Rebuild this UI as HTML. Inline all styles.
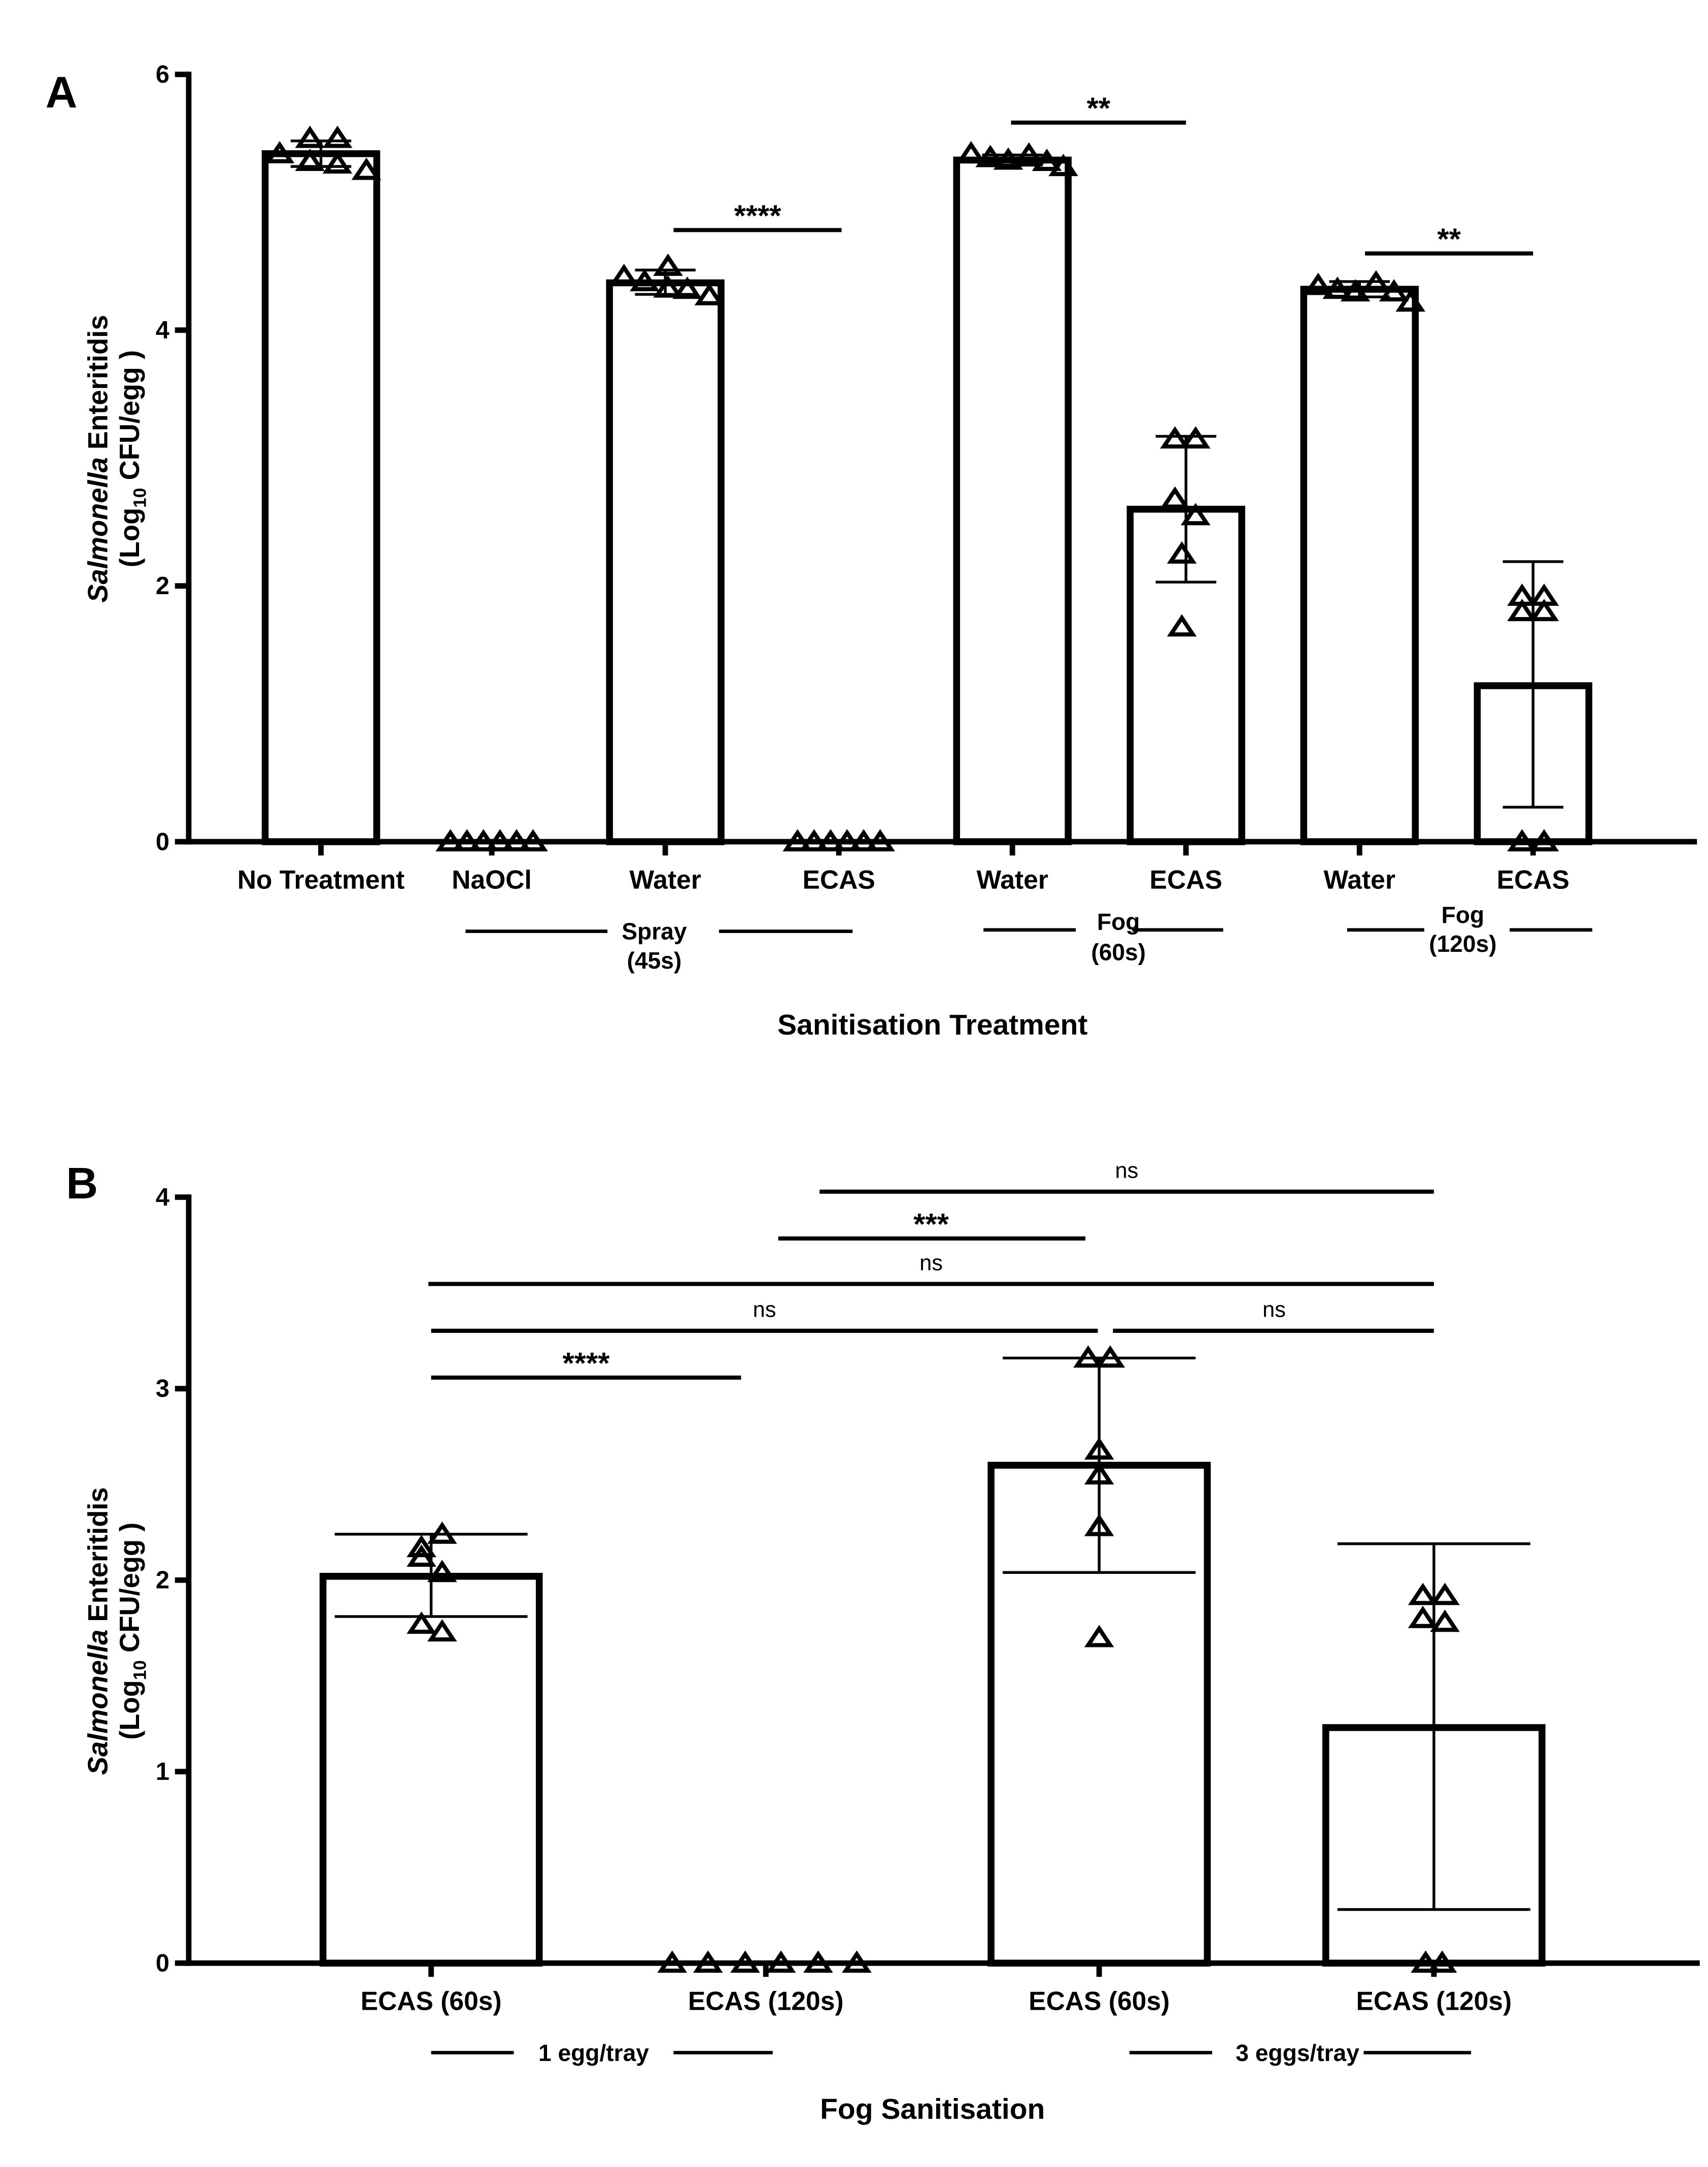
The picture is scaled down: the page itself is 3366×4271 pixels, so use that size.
<!DOCTYPE html>
<html><head><meta charset="utf-8"><style>
html,body{margin:0;padding:0;background:#fff}
svg{display:block}
text{font-family:"Liberation Sans",Arial,sans-serif;fill:#000}
</style></head><body>
<svg id="chart" width="3366" height="4271" viewBox="0 0 1240 1573" preserveAspectRatio="none" xmlns="http://www.w3.org/2000/svg">
<g id="pa"></g>
<g id="pb"></g>
</svg>
<script>
// ---------- Panel A data ----------
const catsA = ["No Treatment","NaOCl","Water","ECAS","Water","ECAS","Water","ECAS"];
const meansA = [5.38,0,4.37,0,5.33,2.60,4.32,1.22];
const errLoA = [5.28,0,4.28,0,5.29,2.03,4.26,0.27];
const errHiA = [5.48,0,4.47,0,5.37,3.17,4.38,2.19];
const pointsA = [
 [5.38,5.50,5.50,5.32,5.30,5.25],
 [0,0,0,0,0,0],
 [4.42,4.38,4.50,4.33,4.32,4.27],
 [0,0,0,0,0,0],
 [5.38,5.35,5.33,5.37,5.32,5.28],
 [3.15,3.15,2.68,2.55,2.25,1.68],
 [4.35,4.32,4.30,4.37,4.30,4.22],
 [1.92,1.92,1.80,1.80,0,0]
];
const ticksA = [0,2,4,6];
// ---------- Panel B data ----------
const catsB = ["ECAS (60s)","ECAS (120s)","ECAS (60s)","ECAS (120s)"];
const meansB = [2.02,0,2.60,1.23];
const errLoB = [1.81,0,2.04,0.28];
const errHiB = [2.24,0,3.16,2.19];
const pointsB = [
 [2.17,2.12,2.24,2.04,1.77,1.73],
 [0,0,0,0,0,0],
 [3.16,3.16,2.68,2.55,2.28,1.70],
 [1.92,1.92,1.80,1.78,0,0]
];
const ticksB = [0,1,2,3,4];

const NS="http://www.w3.org/2000/svg";
function mk(parent,tag,attrs,txt){const e=document.createElementNS(NS,tag);for(const k in attrs)e.setAttribute(k,attrs[k]);if(txt!==undefined)e.textContent=txt;parent.appendChild(e);return e;}
function tri(g,x,y){const h=11,w=8;const p=mk(g,'polygon',{points:`${x},${y-h/2-1} ${x-w},${y+h/2} ${x+w},${y+h/2}`,fill:'none',stroke:'#000','stroke-width':3,'stroke-linejoin':'miter'});

}

function panel(g,o){
 const y=v=>o.y0-(v/o.ymax)*(o.y0-o.ytop);
 o.means.forEach((m,i)=>{const cx=o.cx[i];
  if(m>0){const r=mk(g,'rect',{x:cx-o.bw/2,y:y(m),width:o.bw,height:o.y0-y(m),fill:'#fff',stroke:'#000','stroke-width':5});
   
   }
 });
 o.means.forEach((m,i)=>{if(m<=0)return;const cx=o.cx[i];const ew=o.ew;
  const e=mk(g,'g',{stroke:'#000','stroke-width':2});
  
  
  mk(e,'line',{x1:cx,x2:cx,y1:y(o.lo[i]),y2:y(o.hi[i])});
  mk(e,'line',{x1:cx-ew,x2:cx+ew,y1:y(o.lo[i]),y2:y(o.lo[i])});
  mk(e,'line',{x1:cx-ew,x2:cx+ew,y1:y(o.hi[i]),y2:y(o.hi[i])});
 });
 const ax=mk(g,'g',{stroke:'#000','stroke-width':4});
 
 
 mk(ax,'line',{x1:o.x0,x2:o.x0,y1:o.ytop-2,y2:o.y0+2});
 mk(ax,'line',{x1:o.x0-2,x2:o.xend,y1:o.y0,y2:o.y0});
 o.ticks.forEach(t=>{mk(ax,'line',{x1:o.x0-10,x2:o.x0,y1:y(t),y2:y(t)});
  const tl=mk(g,'text',{x:o.x0-14,y:y(t)+6,'text-anchor':'end','font-size':18,'font-weight':'bold'},t);
  
  });
 o.cx.forEach((cx,i)=>{mk(ax,'line',{x1:cx,x2:cx,y1:o.y0,y2:o.y0+10});
  const t=mk(g,'text',{x:cx,y:o.y0+34,'text-anchor':'middle','font-size':19,'font-weight':'bold'},o.cats[i]);
  
  });
 o.pts.forEach((arr,i)=>arr.forEach((v,j)=>tri(g,o.cx[i]+o.off[i][j],y(v))));
}

const pa=document.getElementById('pa'), pb=document.getElementById('pb');
panel(pa,{x0:137,xend:1232,y0:611,ytop:54,ymax:6,bw:81,ew:22,cats:catsA,means:meansA,lo:errLoA,hi:errHiA,pts:pointsA,ticks:ticksA,
 cx:[233,357,483,609,735,861,987,1113],
 off:[[-30,-8,12,-8,12,33],[-30,-18,-6,6,18,30],[-30,-15,2,2,16,32],[-30,-18,-6,6,18,30],[-30,-16,-3,12,25,37],[-8,7,-8,7,-3,-3],[-30,-16,-3,12,25,37],[-8,8,-8,8,-8,8]]});
panel(pb,{x0:137,xend:1234,y0:1425,ytop:869,ymax:4,bw:157,ew:70,cats:catsB,means:meansB,lo:errLoB,hi:errHiB,pts:pointsB,ticks:ticksB,
 cx:[313,556,798,1041],
 off:[[-7,-7,8,8,-7,8],[-68,-42,-15,11,38,66],[-8,8,0,0,0,0],[-8,8,-8,8,-6,6]]});

function sig(g,x1,x2,yy,label,isStar,tx){
 const s=mk(g,'g',{});
 
 
 mk(s,'line',{x1:x1,x2:x2,y1:yy,y2:yy,stroke:'#000','stroke-width':3});
 mk(s,'text',{x:tx===undefined?(x1+x2)/2:tx,y:isStar?yy-3:yy-10,'text-anchor':'middle','font-size':isStar?22:16,'font-weight':isStar?'bold':'normal'},label);
}
sig(pa,489,611,167,"****",true);
sig(pa,734,861,89,"**",true);
sig(pa,991,1113,184,"**",true);
sig(pb,595,1041,865,"ns",false,818);
sig(pb,565,788,899,"***",true,676);
sig(pb,311,1041,932,"ns",false,676);
sig(pb,313,797,966,"ns",false,555);
sig(pb,808,1041,966,"ns",false,925);
sig(pb,313,538,1000,"****",true);

function grp(g,segs,lines,x,ys,fs){
 const gg=mk(g,'g',{});
 
 
 segs.forEach(s=>mk(gg,'line',{x1:s[0],x2:s[1],y1:s[2],y2:s[2],stroke:'#000','stroke-width':2.5}));
 lines.forEach((l,i)=>mk(gg,'text',{x:x,y:ys[i],'text-anchor':'middle','font-size':fs||17,'font-weight':'bold'},l));
}
grp(pa,[[338,441,676],[522,619,676]],["Spray","(45s)"],475,[682,703]);
grp(pa,[[714,781,675],[822,888,675]],["Fog","(60s)"],812,[675,697]);
grp(pa,[[978,1034,675],[1096,1156,675]],["Fog","(120s)"],1062,[670,691]);
grp(pb,[[313,373,1490],[489,561,1490]],["1 egg/tray"],431,[1496]);
grp(pb,[[820,880,1490],[990,1068,1490]],["3 eggs/tray"],942,[1496]);

function txt(g,name,attrs,content){const t=mk(g,'text',attrs,content);return t;}
txt(pa,'panel-letter',{x:33,y:78,'font-size':32,'font-weight':'bold'},"A");
txt(pb,'panel-letter',{x:48,y:870,'font-size':32,'font-weight':'bold'},"B");
txt(pa,'x-axis-title',{x:677,y:751,'text-anchor':'middle','font-size':21,'font-weight':'bold'},"Sanitisation Treatment");
txt(pb,'x-axis-title',{x:677,y:1538,'text-anchor':'middle','font-size':21,'font-weight':'bold'},"Fog Sanitisation");
function ytitle(g,cy){
 const t=mk(g,'text',{transform:`translate(78,${cy}) rotate(-90)`,'text-anchor':'middle','font-size':20,'font-weight':'bold'});
 
 
 mk(t,'tspan',{'font-style':'italic'},"Salmonella");
 mk(t,'tspan',{},"\u00A0Enteritidis");
 const t2=mk(g,'text',{transform:`translate(101,${cy}) rotate(-90)`,'text-anchor':'middle','font-size':20,'font-weight':'bold'});
 
 
 mk(t2,'tspan',{},"(Log");
 mk(t2,'tspan',{'font-size':13,dy:5},"10");
 mk(t2,'tspan',{dy:-5},"\u00A0CFU/egg )");
}
ytitle(pa,333);
ytitle(pb,1184);
</script>
</body></html>
